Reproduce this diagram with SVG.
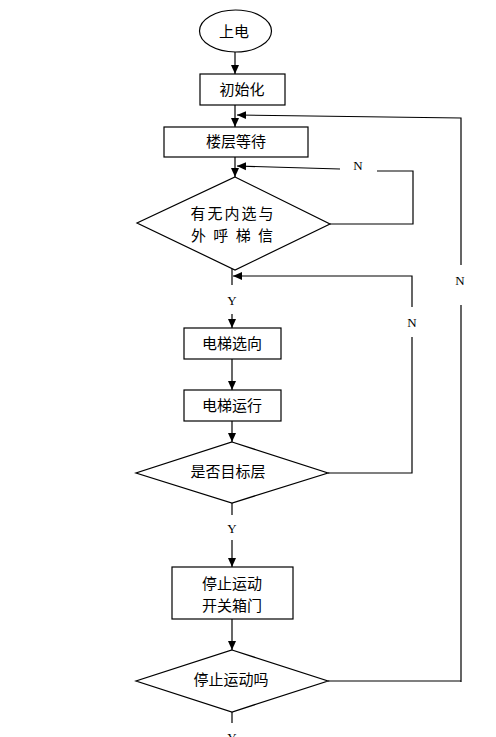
<svg xmlns="http://www.w3.org/2000/svg" width="496" height="737" viewBox="0 0 496 737">
<defs>
<marker id="ah" markerWidth="10" markerHeight="10" refX="9" refY="5" orient="auto" markerUnits="userSpaceOnUse"><path d="M0,1 L9,5 L0,9 Z" fill="#000"/></marker>
<style>
.s{fill:#fff;stroke:#000;stroke-width:1.2}
.c{fill:none;stroke:#000;stroke-width:1.2}
.t{font-family:"Noto Sans CJK SC","Noto Sans",sans-serif;font-size:15px;fill:#000;text-anchor:middle}
.l{font-family:"Liberation Serif",serif;font-size:13px;fill:#000;text-anchor:middle}
</style>
</defs>
<rect width="496" height="737" fill="#fff"/>
<g id="connectors">
<path class="c" d="M235,52 V74" marker-end="url(#ah)"/>
<path class="c" d="M235,105 V127" marker-end="url(#ah)"/>
<path class="c" d="M235,157 V177" marker-end="url(#ah)"/>
<path class="c" d="M461,682 V305 M461,265 V118 L237,115" marker-end="url(#ah)"/>
<path class="c" d="M330,224 H413 V171 H377 M340,169 L237,166" marker-end="url(#ah)"/>
<path class="c" d="M232,265 V285"/>
<path class="c" d="M328,473 H412 V337 M412,307 V276 H233" marker-end="url(#ah)"/>
<path class="c" d="M232,314 V328" marker-end="url(#ah)"/>
<path class="c" d="M232,359 V390" marker-end="url(#ah)"/>
<path class="c" d="M232,421 V442" marker-end="url(#ah)"/>
<path class="c" d="M232,503 V515"/>
<path class="c" d="M232,540 V567" marker-end="url(#ah)"/>
<path class="c" d="M232,619 V650" marker-end="url(#ah)"/>
<path class="c" d="M328,681 H461"/>
<path class="c" d="M232,712 V723"/>
<text class="l" x="358" y="170">N</text>
<text class="l" x="460" y="285">N</text>
<text class="l" x="412" y="327">N</text>
<text class="l" x="232" y="305">Y</text>
<text class="l" x="232" y="533">Y</text>
<text class="l" x="232" y="742">Y</text>
</g>
<g id="start"><ellipse class="s" cx="235.5" cy="31" rx="36" ry="21"/><text class="t" x="234" y="37">上电</text></g>
<g id="init"><rect class="s" x="200" y="74" width="85" height="31"/><text class="t" x="242" y="95">初始化</text></g>
<g id="wait"><rect class="s" x="164" y="127" width="144" height="30"/><text class="t" x="236" y="147">楼层等待</text></g>
<g id="d1"><path class="s" d="M235,177 L330,224 L235,270 L137,223 Z"/><text class="t" x="233" y="219" letter-spacing="2">有无内选与</text><text class="t" x="233" y="241" letter-spacing="2" xml:space="preserve">外 呼 梯 信</text></g>
<g id="dir"><rect class="s" x="184" y="328" width="97" height="31"/><text class="t" x="232" y="349">电梯选向</text></g>
<g id="run"><rect class="s" x="184" y="390" width="97" height="31"/><text class="t" x="232" y="411">电梯运行</text></g>
<g id="d2"><path class="s" d="M232,442 L328,473 L232,503 L136,473 Z"/><text class="t" x="228" y="477">是否目标层</text></g>
<g id="stop"><rect class="s" x="172" y="567" width="121" height="52"/><text class="t" x="232" y="589">停止运动</text><text class="t" x="232" y="611">开关箱门</text></g>
<g id="d3"><path class="s" d="M232,650 L328,681 L232,712 L136,681 Z"/><text class="t" x="231" y="685">停止运动吗</text></g>
</svg>
